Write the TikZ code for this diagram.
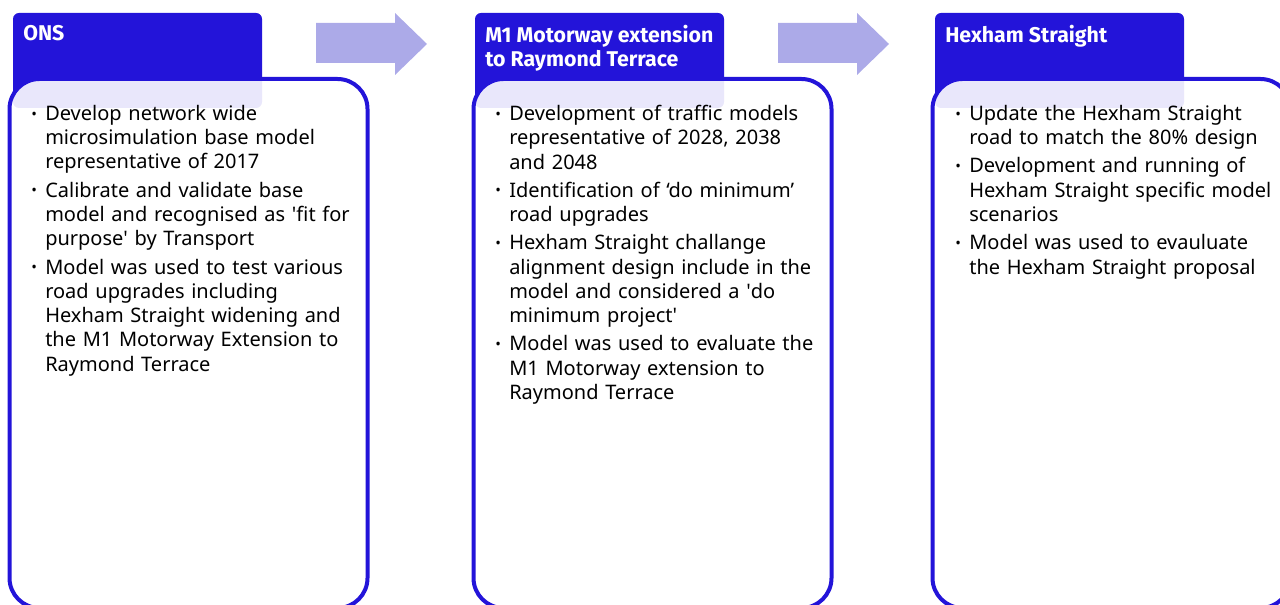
\documentclass[tikz,border=0pt]{standalone}
\usepackage{fontspec}
\setmainfont{Noto Sans}
\newfontfamily\headfont{Fira Sans}
\definecolor{hdblue}{HTML}{2314D9}
\definecolor{arrowblue}{HTML}{ACAAE8}
\newcommand{\bitem}[1]{\hangindent=10.5pt\hangafter=1\noindent\makebox[10.5pt][l]{\raisebox{0.07em}{\scalebox{0.75}{•}}}{\let\\\newline#1}\par}
\newcommand{\sq}{\textquotesingle}
\tikzset{
  headtext/.style={anchor=north west, inner sep=0pt, text=white, align=left,
    font=\headfont\bfseries\fontsize{16}{18}\selectfont},
  bodytext/.style={anchor=north west, inner sep=0pt, text width=330pt, align=left,
    font=\fontsize{15}{18.2}\selectfont\setlength{\parskip}{3pt}},
}
\begin{document}
\begin{tikzpicture}[x=0.75pt, y=-0.75pt]
\useasboundingbox (0,0) rectangle (1280,605);
\foreach \x in {316, 778}
  \fill[arrowblue] (\x,23) -- (\x+79,23) -- (\x+79,13) -- (\x+111,44) -- (\x+79,75) -- (\x+79,63) -- (\x,63) -- cycle;
\foreach \x in {13, 475, 935}
  \fill[hdblue, rounded corners=4.5pt] (\x,13) rectangle (\x+249,108);
\node[headtext] (ons) at (23,25) {ONS};
\node[headtext] (m1) at (485,25) {M1 Motorway extension\\to Raymond Terrace};
\node[headtext] (hexham) at (945,25) {Hexham Straight};
\foreach \b in {9.5, 473.5, 932.5}
  \draw[hdblue, line width=3pt, fill=white, fill opacity=0.9, rounded corners=22.5pt] (\b,79) rectangle (\b+358,608);
\node[bodytext] (ons-body) at (31,105) {%
  \bitem{Develop network wide\\microsimulation base model\\representative of 2017}
  \bitem{Calibrate and validate base\\model and recognised as \sq fit for\\purpose\sq{} by Transport}
  \bitem{Model was used to test various\\road upgrades including\\Hexham Straight widening and\\the M1 Motorway Extension to\\Raymond Terrace}};
\node[bodytext] (m1-body) at (495,105) {%
  \bitem{Development of traffic models\\representative of 2028, 2038\\and 2048}
  \bitem{Identification of ‘do minimum’\\road upgrades}
  \bitem{Hexham Straight challange\\alignment design include in the\\model and considered a \sq do\\minimum project\sq}
  \bitem{Model was used to evaluate the\\M1 Motorway extension to\\Raymond Terrace}};
\node[bodytext] (hexham-body) at (955,105) {%
  \bitem{Update the Hexham Straight\\road to match the 80\% design}
  \bitem{Development and running of\\Hexham Straight specific model\\scenarios}
  \bitem{Model was used to evauluate\\the Hexham Straight proposal}};
\end{tikzpicture}
\end{document}
